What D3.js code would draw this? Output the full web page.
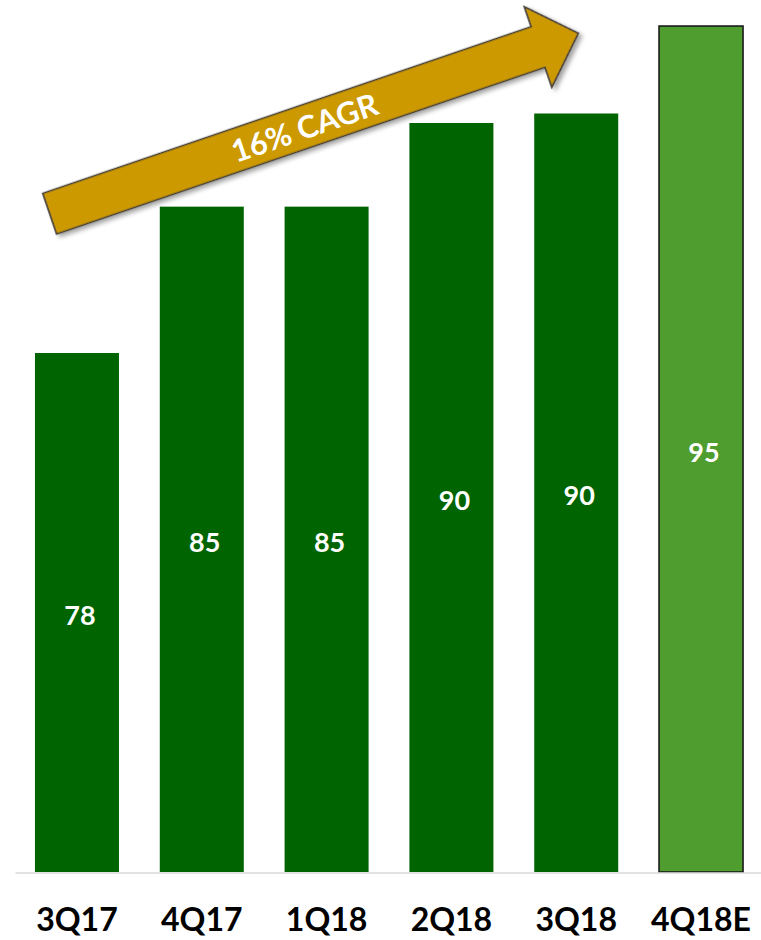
<!DOCTYPE html>
<html>
<head>
<meta charset="utf-8">
<script src="https://cdn.jsdelivr.net/npm/d3@7"></script>
<style>
  html, body { margin: 0; padding: 0; background: #ffffff; }
  svg { display: block; }
</style>
</head>
<body>
<svg id="chart" width="761" height="940"></svg>
<script>
// Quarterly volumes; the last quarter is an estimate
const quarters = ["3Q17", "4Q17", "1Q18", "2Q18", "3Q18", "4Q18E"];
const volumes = [77.6, 85.3, 85.3, 89.7, 90.2, 94.8];
const estimated = [false, false, false, false, false, true];
const growthLabel = "16% CAGR";

const W = 761, H = 940;
const baseY = 872;
const svg = d3.select("#chart");

const x = d3.scaleBand()
  .domain(quarters)
  .range([15, 763])
  .paddingInner(0.327)
  .paddingOuter(0.16);

const y = d3.scaleLinear()
  .domain([50.3, 96.17])
  .range([baseY, 0]);

const fmt = d3.format(".0f");
const rows = quarters.map((q, i) => ({ q, v: volumes[i], est: estimated[i] }));

// Bars
svg.append("g").selectAll("rect")
  .data(rows)
  .join("rect")
  .attr("x", d => x(d.q))
  .attr("y", d => y(d.v))
  .attr("width", x.bandwidth())
  .attr("height", d => baseY - y(d.v))
  .attr("fill", d => d.est ? "#4f9d2f" : "#006400")
  .attr("stroke", d => d.est ? "#1a1a1a" : "none")
  .attr("stroke-width", 1.6);

// Value labels, centred inside each bar
svg.append("g").selectAll("text")
  .data(rows)
  .join("text")
  .attr("x", d => x(d.q) + x.bandwidth() / 2 + 3)
  .attr("y", d => (y(d.v) + baseY) / 2 + 3)
  .attr("dy", "0.36em")
  .attr("text-anchor", "middle")
  .attr("font-family", "Lato, 'Open Sans', sans-serif")
  .attr("font-weight", 700)
  .attr("font-size", 27)
  .attr("fill", "#ffffff")
  .text(d => fmt(d.v));

// Category axis
const axis = svg.append("g")
  .attr("transform", `translate(0,${baseY + 0.5})`)
  .call(d3.axisBottom(x).tickSize(0).tickPadding(36));
axis.select(".domain").attr("stroke", "#d9d9d9").attr("stroke-width", 1.6);
axis.selectAll("text")
  .attr("font-family", "Lato, 'Open Sans', sans-serif")
  .attr("font-weight", 700)
  .attr("font-size", 32)
  .attr("fill", "#000000")
  .attr("dy", "0.71em");

// Growth arrow with drop shadow
const defs = svg.append("defs");
const f = defs.append("filter").attr("id", "shadow")
  .attr("x", "-10%").attr("y", "-30%").attr("width", "130%").attr("height", "180%");
f.append("feDropShadow")
  .attr("dx", 2.5).attr("dy", 3.5).attr("stdDeviation", 2.2)
  .attr("flood-color", "#000").attr("flood-opacity", 0.35);

const tail = [49.7, 213.7], tip = [578.3, 33.3];
const len = Math.hypot(tip[0] - tail[0], tip[1] - tail[1]);
const ang = Math.atan2(tip[1] - tail[1], tip[0] - tail[0]) * 180 / Math.PI;
const half = 21.5, headHalf = 42.6, headLen = 42.5;
const shaftEnd = len - headLen;

const arrow = svg.append("g")
  .attr("transform", `translate(${tail[0]},${tail[1]}) rotate(${ang})`);

const pts = [
  [0, -half], [shaftEnd, -half], [shaftEnd, -headHalf], [len, 0],
  [shaftEnd, headHalf], [shaftEnd, half], [0, half]
];
arrow.append("path")
  .attr("d", d3.line()(pts) + "Z")
  .attr("fill", "#cc9900")
  .attr("stroke", "#3f3a33")
  .attr("stroke-width", 1.6)
  .attr("stroke-linejoin", "miter")
  .attr("filter", "url(#shadow)");

arrow.append("text")
  .attr("x", 269)
  .attr("y", 1)
  .attr("dy", "0.36em")
  .attr("text-anchor", "middle")
  .attr("font-family", "Lato, 'Open Sans', sans-serif")
  .attr("font-weight", 700)
  .attr("font-size", 31)
  .attr("fill", "#ffffff")
  .text(growthLabel);
</script>
</body>
</html>
